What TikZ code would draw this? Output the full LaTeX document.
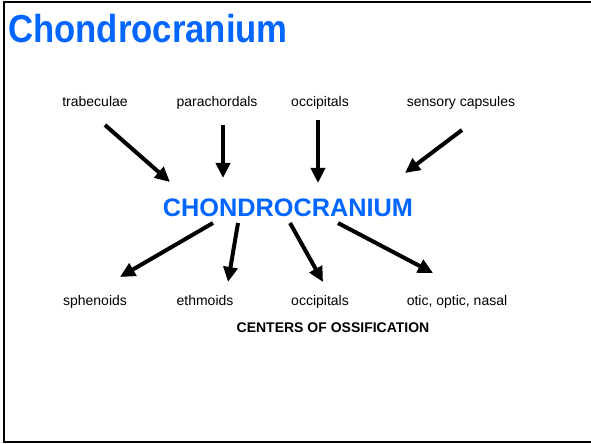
\documentclass[tikz,border=0pt]{standalone}
\usepackage{fontspec}
\setmainfont{Liberation Sans}
\usetikzlibrary{arrows.meta}
\definecolor{slideblue}{RGB}{0,102,255}

\begin{document}
\begin{tikzpicture}[
  x=1bp, y=-1bp,
  >={Triangle[length=15bp,width=14bp]},
  line join=miter,
  every node/.style={font=\fontsize{14bp}{16bp}\selectfont, inner sep=0pt},
  bigarrow/.style={->, line width=4bp}
]
  \useasboundingbox (0,0) rectangle (591,444);
  \draw[line width=2.2bp] (4,2) rectangle (596,442);

  % Titles
  \node[anchor=base west, text=slideblue] (title) at (8,43)
    {\fontsize{39bp}{40bp}\selectfont\bfseries\scalebox{0.89}[1]{Chondrocranium}};
  \node[anchor=base, text=slideblue] (core) at (288,216.7)
    {\fontsize{25.3bp}{27bp}\selectfont\bfseries CHONDROCRANIUM};

  % Sources of the chondrocranium
  \node[anchor=base] (trab) at ( 95,107) {trabeculae};
  \node[anchor=base] (para) at (217,107) {parachordals};
  \node[anchor=base] (occA) at (320,107) {occipitals};
  \node[anchor=base] (sens) at (461,107) {sensory capsules};

  \coordinate (trabS) at (105,125); \coordinate (trabE) at (170,182);
  \coordinate (paraS) at (223,125); \coordinate (paraE) at (223,178);
  \coordinate (occAS) at (318,120); \coordinate (occAE) at (318,183);
  \coordinate (sensS) at (462,130); \coordinate (sensE) at (405,173);

  \foreach \src in {trab,para,occA,sens}{\draw[bigarrow] (\src S) -- (\src E);}

  % Centers of ossification
  \node[anchor=base] (sphe) at ( 95,305) {sphenoids};
  \node[anchor=base] (ethm) at (205,305) {ethmoids};
  \node[anchor=base] (occB) at (320,305) {occipitals};
  \node[anchor=base] (otic) at (457,305) {otic, optic, nasal};
  \node[anchor=base, font=\fontsize{14bp}{16bp}\selectfont\bfseries] (cent) at (333,332.7)
    {CENTERS OF OSSIFICATION};

  \coordinate (spheS) at (213,223); \coordinate (spheE) at (120,277);
  \coordinate (ethmS) at (238,223); \coordinate (ethmE) at (228,282);
  \coordinate (occBS) at (290,223); \coordinate (occBE) at (323,282);
  \coordinate (oticS) at (338,223); \coordinate (oticE) at (433,273);

  \foreach \dst in {sphe,ethm,occB,otic}{\draw[bigarrow] (\dst S) -- (\dst E);}
\end{tikzpicture}
\end{document}
